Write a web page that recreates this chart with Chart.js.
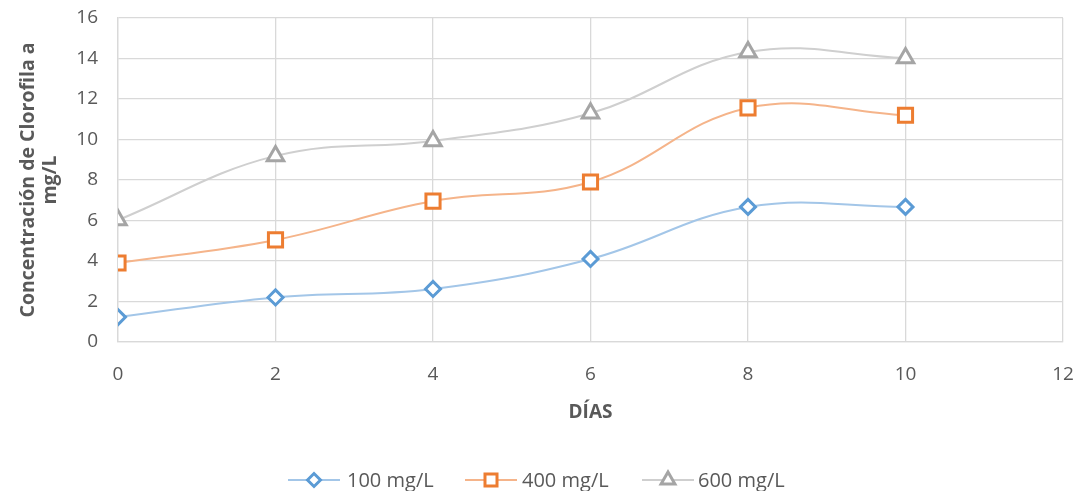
<!DOCTYPE html>
<html><head><meta charset="utf-8">
<script src="https://cdn.jsdelivr.net/npm/chart.js@4/dist/chart.umd.min.js"></script>
<style>html,body{margin:0;padding:0;background:#fff}#wrap{width:1085px;height:491px}</style>
</head><body><div id="wrap"><canvas id="c" width="1085" height="491"></canvas></div>
<script>
const days = [0, 2, 4, 6, 8, 10];
const seriesNames = ["100 mg/L", "400 mg/L", "600 mg/L"];
const s100 = [1.23, 2.2, 2.62, 4.1, 6.67, 6.67];
const s400 = [3.9, 5.04, 6.96, 7.9, 11.56, 11.2];
const s600 = [6.02, 9.19, 9.93, 11.3, 14.32, 14.02];
const xTicks = [0, 2, 4, 6, 8, 10, 12];
const yTicks = [0, 2, 4, 6, 8, 10, 12, 14, 16];

const FONT = "'Open Sans', 'Liberation Sans', sans-serif";
const TXT = '#595959';
const lineCols = ['#a3c6e8', '#f5b48a', '#cfcfcf'];
const markCols = ['#5b9bd5', '#ed7d31', '#a5a5a5'];
const shapes = ['rectRot', 'rect', 'triangle'];
const radii = [7.5, 10, 9.5];

function pts(arr){ return days.map((d,i)=>({x:d,y:arr[i]})); }
const all = [s100, s400, s600];
const datasets = all.map((arr,i)=>({
  label: seriesNames[i],
  data: pts(arr),
  borderColor: lineCols[i],
  borderWidth: 2,
  pointStyle: shapes[i],
  pointRadius: radii[i],
  pointBorderColor: markCols[i],
  pointBackgroundColor: '#ffffff',
  pointBorderWidth: 3,
  tension: 0.4,
  fill: false,
  showLine: true
}));

const legendPlugin = {
  id: 'customLegend',
  afterDraw(chart){
    const ctx = chart.ctx;
    const y = 480;
    const items = [{lx:288, tx:347}, {lx:465, tx:522}, {lx:642, tx:698}];
    const lr = [6.5, 8.5, 8];
    ctx.save();
    ctx.font = "20px " + FONT;
    ctx.textBaseline = 'middle';
    items.forEach((it,i)=>{
      ctx.strokeStyle = lineCols[i];
      ctx.lineWidth = 2;
      ctx.beginPath(); ctx.moveTo(it.lx, y); ctx.lineTo(it.lx+52, y); ctx.stroke();
      ctx.fillStyle = '#ffffff'; ctx.strokeStyle = markCols[i]; ctx.lineWidth = 3;
      Chart.helpers.drawPoint(ctx, {pointStyle: shapes[i], radius: lr[i], rotation: 0, borderWidth: 3}, it.lx+26, y);
      ctx.fillStyle = TXT;
      ctx.textAlign = 'left';
      ctx.fillText(seriesNames[i], it.tx, y+1);
    });
    ctx.restore();
  }
};

new Chart(document.getElementById('c'), {
  type: 'scatter',
  data: { datasets },
  plugins: [legendPlugin],
  options: {
    responsive: false,
    animation: false,
    layout: { padding: { left: 0, right: 22, top: 18, bottom: 67 } },
    plugins: { legend: { display: false }, tooltip: { enabled: false } },
    scales: {
      x: {
        type: 'linear', min: 0, max: 12,
        afterBuildTicks(ax){ ax.ticks = xTicks.map(v=>({value:v})); },
        afterFit(ax){ ax.height = 82; ax.paddingLeft = 0; ax.paddingRight = 0; },
        grid: { color: '#d9d9d9', lineWidth: 1.3, drawTicks: false },
        border: { color: '#d9d9d9', width: 1.3 },
        ticks: { color: TXT, font: { family: FONT, size: 19 }, padding: 21, maxRotation: 0 },
        title: { display: true, text: 'DÍAS', color: TXT, font: { family: FONT, size: 19, weight: 'bold', lineHeight: '23px' }, padding: { top: 0, bottom: 0 } }
      },
      y: {
        min: 0, max: 16,
        afterBuildTicks(ax){ ax.ticks = yTicks.map(v=>({value:v})); },
        afterFit(ax){ ax.width = 118; ax.paddingTop = 0; ax.paddingBottom = 0; },
        grid: { color: '#d9d9d9', lineWidth: 1.3, drawTicks: false },
        border: { color: '#d9d9d9', width: 1.3 },
        ticks: { color: TXT, font: { family: FONT, size: 19 }, padding: 20 },
        title: { display: true, text: ['Concentración de Clorofila a', 'mg/L'], color: TXT, font: { family: FONT, size: 19.5, weight: 'bold', lineHeight: '22px' }, padding: { top: 17, bottom: 0 } }
      }
    }
  }
});
</script></body></html>
